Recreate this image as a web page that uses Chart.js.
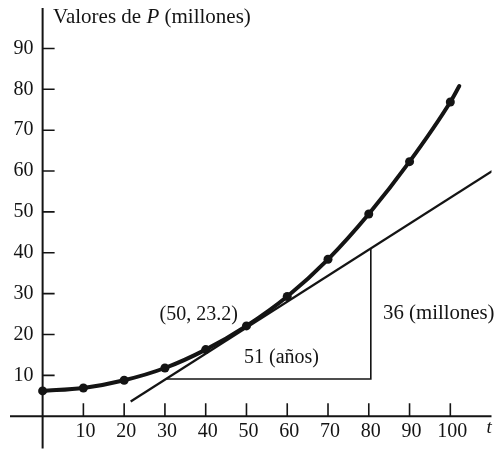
<!DOCTYPE html>
<html>
<head>
<meta charset="utf-8">
<script src="https://cdn.jsdelivr.net/npm/chart.js@4"></script>
<style>
  html, body { margin: 0; padding: 0; background: #fff; }
  canvas { display: block; }
</style>
</head>
<body>
<canvas id="chart" width="496" height="453"></canvas>
<script>
// t (años) and P (millones); last point is where the drawn curve stops
const years = [0, 10, 20, 30, 40, 50, 60, 70, 80, 90, 100, 102.2];
const population = [6.2, 6.9, 8.8, 11.8, 16.3, 22.1, 29.3, 38.4, 49.5, 62.3, 76.9, 80.8];

// tangent line at (50, 23.2) and its slope triangle
const tangentT = [21.6, 110.3];
const tangentP = [3.6, 60.0];
const triangleT = [30.3, 80.5, 80.5];
const triangleP = [9.1, 9.1, 41.0];

const xTicks = [10, 20, 30, 40, 50, 60, 70, 80, 90, 100];
const yTicks = [10, 20, 30, 40, 50, 60, 70, 80, 90];

const notes = [
  { text: "(50, 23.2)", t: 38.3, p: 24.8, align: "center", size: 20 },
  { text: "51 (años)", t: 58.6, p: 14.3, align: "center", size: 20 },
  { text: "36 (millones)", t: 83.5, p: 25.1, align: "left", size: 20.8 }
];

const ink = "#141414";
const serif = '"Liberation Serif", "DejaVu Serif", serif';

function toPoints(xs, ys) {
  return xs.map((v, i) => ({ x: v, y: ys[i] }));
}

const axesPlugin = {
  id: "axes",
  beforeDatasetsDraw(chart) {
    const { ctx, chartArea } = chart;
    const x = chart.scales.x;
    const y = chart.scales.y;
    const x0 = x.getPixelForValue(0);
    const y0 = y.getPixelForValue(0);

    ctx.save();
    ctx.strokeStyle = ink;
    ctx.fillStyle = ink;

    // axis lines
    ctx.lineWidth = 2;
    ctx.beginPath();
    ctx.moveTo(chartArea.left, y0);
    ctx.lineTo(chartArea.right, y0);
    ctx.moveTo(x0, chartArea.top);
    ctx.lineTo(x0, chartArea.bottom);
    ctx.stroke();

    // ticks point inward
    ctx.lineWidth = 1.6;
    ctx.beginPath();
    xTicks.forEach(v => {
      const px = x.getPixelForValue(v);
      ctx.moveTo(px, y0);
      ctx.lineTo(px, y0 - 13);
    });
    yTicks.forEach(v => {
      const py = y.getPixelForValue(v);
      ctx.moveTo(x0, py);
      ctx.lineTo(x0 + 12, py);
    });
    ctx.stroke();

    // tick labels
    ctx.font = "20px " + serif;
    ctx.textBaseline = "middle";
    ctx.textAlign = "center";
    xTicks.forEach(v => ctx.fillText(String(v), x.getPixelForValue(v) + 2, y0 + 16));
    ctx.textAlign = "right";
    yTicks.forEach(v => ctx.fillText(String(v), x0 - 9, y.getPixelForValue(v)));

    // axis names
    ctx.font = "italic 19px " + serif;
    ctx.textAlign = "center";
    ctx.fillText("t", x.getPixelForValue(109.5), y0 + 12);

    const parts = [
      { s: "Valores de ", f: "21px " + serif },
      { s: "P", f: "italic 21px " + serif },
      { s: " (millones)", f: "21px " + serif }
    ];
    let tx = x0 + 10.5;
    const ty = y.getPixelForValue(97.5);
    ctx.textAlign = "left";
    parts.forEach(part => {
      ctx.font = part.f;
      ctx.fillText(part.s, tx, ty);
      tx += ctx.measureText(part.s).width;
    });

    // notes on the figure
    notes.forEach(n => {
      ctx.font = n.size + "px " + serif;
      ctx.textAlign = n.align;
      ctx.fillText(n.text, x.getPixelForValue(n.t), y.getPixelForValue(n.p));
    });
    ctx.restore();
  }
};

const ctx = document.getElementById("chart").getContext("2d");
new Chart(ctx, {
  type: "scatter",
  data: {
    datasets: [
      {
        data: toPoints(triangleT, triangleP),
        showLine: true,
        borderColor: ink,
        borderWidth: 1.6,
        pointRadius: 0,
        tension: 0
      },
      {
        data: toPoints(tangentT, tangentP),
        showLine: true,
        borderColor: ink,
        borderWidth: 2.2,
        pointRadius: 0,
        tension: 0
      },
      {
        data: toPoints(years, population),
        showLine: true,
        borderColor: ink,
        borderWidth: 4,
        borderCapStyle: "round",
        cubicInterpolationMode: "monotone",
        pointRadius: c => (c.dataIndex === years.length - 1 ? 0 : 4.5),
        pointBackgroundColor: ink,
        pointBorderWidth: 0
      }
    ]
  },
  options: {
    responsive: false,
    animation: false,
    devicePixelRatio: 1,
    layout: { padding: { left: 10, right: 4, top: 8, bottom: 0 } },
    plugins: {
      legend: { display: false },
      tooltip: { enabled: false }
    },
    scales: {
      x: { type: "linear", display: false, min: -8, max: 110.1 },
      y: { type: "linear", display: false, min: -7.9, max: 99.9 }
    }
  },
  plugins: [axesPlugin]
});
</script>
</body>
</html>
